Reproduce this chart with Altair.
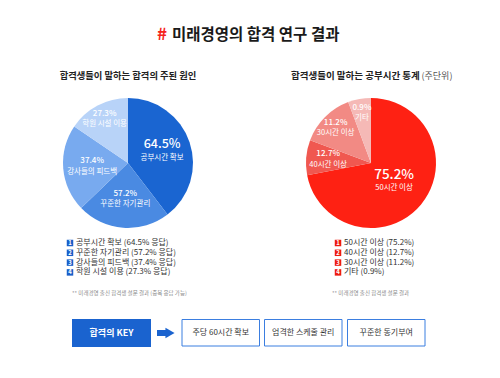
import altair as alt
import pandas as pd

# ---------------- data ----------------
title_text = "미래경영의 합격 연구 결과"
left_title = "합격생들이 말하는 합격의 주된 원인"
right_title_main = "합격생들이 말하는 공부시간 통계"
right_title_unit = "(주단위)"

left_cats = ["공부시간 확보", "꾸준한 자기관리", "강사들의 피드백", "학원 시설 이용"]
left_values = [64.5, 57.2, 37.4, 27.3]
left_share = [39.6, 23.2, 21.7, 15.5]     # slice share as drawn in the picture

right_cats = ["50시간 이상", "40시간 이상", "30시간 이상", "기타"]
right_values = [75.2, 12.7, 11.2, 0.9]
right_share = [72.0, 8.7, 13.6, 5.7]      # slice share as drawn in the picture

left_note = "** 미래경영 출신 합격생 설문 결과 (중복 응답 가능)"
right_note = "** 미래경영 출신 합격생 설문 결과"

key_label = "합격의 KEY"
key_items = ["주당 60시간 확보", "엄격한 스케줄 관리", "꾸준한 동기부여"]

# ---------------- styles ----------------
FONT = "Noto Sans CJK KR"
left_colors = ["#1a65d1", "#4a8ae2", "#78aaef", "#b8d3f8"]
right_colors = ["#fe2113", "#f05850", "#f28a84", "#f5b9b6"]
left_label_r = [36, 36, 36, 50]
right_label_r = [30, 43, 50, 51]
left_big_size = 12.5
right_big_size = 13.5
LC = (128, 163)
RC = (371, 163)
R = 65

def pie_df(cats, vals, share, cols, lr):
    return pd.DataFrame({
        "i": range(len(cats)),
        "cat": cats,
        "val": vals,
        "share": share,
        "col": cols,
        "lr": lr,
        "pct": [f"{v}%" for v in vals],
    })

ldf = pie_df(left_cats, left_values, left_share, left_colors, left_label_r)
rdf = pie_df(right_cats, right_values, right_share, right_colors, right_label_r)

def pie_layers(df, c, big):
    arc = alt.Chart(df).mark_arc(outerRadius=R, stroke=None).encode(
        theta=alt.Theta("share:Q", stack=True),
        order=alt.Order("i:Q"),
        color=alt.Color("col:N", scale=None),
        x=alt.value(c[0]), y=alt.value(c[1]),
    )
    tb = alt.Chart(df).transform_window(
        cum="sum(share)", sort=[alt.SortField("i")], frame=[None, 0]
    ).transform_joinaggregate(tot="sum(share)").transform_calculate(
        mid="(datum.cum - datum.share/2) / datum.tot * 2 * PI"
    ).encode(
        theta=alt.Theta("mid:Q", scale=None),
        radius=alt.Radius("lr:Q", scale=None),
        x=alt.value(c[0]), y=alt.value(c[1]),
    )
    big_f = tb.transform_filter("datum.i == 0")
    small_f = tb.transform_filter("datum.i > 0")
    pct_big = big_f.mark_text(font=FONT, color="white", dy=-7.5, fontSize=big,
                              fontWeight=500).encode(text="pct:N")
    sub_big = big_f.mark_text(font=FONT, color="white", fontSize=7.5, dy=6.3).encode(
        text="cat:N")
    pct_small = small_f.mark_text(font=FONT, color="white", dy=-5, fontSize=8,
                                  fontWeight=500).encode(text="pct:N")
    sub_small = small_f.mark_text(font=FONT, color="white", fontSize=7.5, dy=5.5).encode(
        text="cat:N")
    return [arc, pct_big, sub_big, pct_small, sub_small]

def txt(text, x, y, size, color="#222", weight="normal", align="center"):
    return alt.Chart(pd.DataFrame({"t": [text]})).mark_text(
        font=FONT, fontSize=size, color=color, fontWeight=weight, align=align,
        baseline="middle").encode(text="t:N", x=alt.value(x), y=alt.value(y))

layers = []
# title
layers.append(txt("#", 167, 35, 17, color="#f5221b", weight="bold", align="right"))
layers.append(txt(title_text, 172, 35, 15.5, color="#1a1a1a", weight="bold", align="left"))
# subtitles
layers.append(txt(left_title, 128, 76, 9.3, weight="bold"))
layers.append(txt(right_title_main, 291, 76, 9.5, weight="bold", align="left"))
layers.append(txt(right_title_unit, 421.5, 76, 9, color="#555", align="left"))

layers += pie_layers(ldf, LC, left_big_size)
layers += pie_layers(rdf, RC, right_big_size)

# legends
def legend_layers(cats, vals, suffix, color, x0):
    df = pd.DataFrame({
        "i": range(len(cats)),
        "num": [str(k + 1) for k in range(len(cats))],
        "lab": [f"{c} ({v}%{suffix})" for c, v in zip(cats, vals)],
    })
    b = alt.Chart(df).transform_calculate(yy="243 + datum.i * 9.8")
    sq = b.mark_point(shape="square", filled=True, size=42, color=color, opacity=1).encode(
        x=alt.value(x0), y=alt.Y("yy:Q", scale=None))
    nm = b.mark_text(font=FONT, fontSize=6, color="white", fontWeight="bold").encode(
        x=alt.value(x0), y=alt.Y("yy:Q", scale=None), text="num:N")
    lb = b.mark_text(font=FONT, fontSize=8, color="#333", align="left").encode(
        x=alt.value(x0 + 6), y=alt.Y("yy:Q", scale=None), text="lab:N")
    return [sq, nm, lb]

layers += legend_layers(left_cats, left_values, " 응답", "#1a5fc9", 70)
layers += legend_layers(right_cats, right_values, "", "#ee1c10", 338)

layers.append(txt(left_note, 72, 293, 5.5, color="#888", align="left"))
layers.append(txt(right_note, 332, 293, 5.5, color="#888", align="left"))

# KEY box
def rect(x1, x2, y1, y2, fill, stroke=None):
    m = alt.Chart(pd.DataFrame({"a": [0]})).mark_rect(
        fill=fill, stroke=stroke, strokeWidth=1 if stroke else 0)
    return m.encode(x=alt.value(x1), x2=alt.value(x2), y=alt.value(y1), y2=alt.value(y2))

layers.append(rect(72, 151, 319, 347, "#1a63cf"))
layers.append(txt(key_label, 111.5, 333, 9, color="white", weight="bold"))
# arrow
layers.append(rect(157, 168, 330, 336, "#1a63cf"))
layers.append(alt.Chart(pd.DataFrame({"a": [0]})).mark_point(
    shape="triangle-right", filled=True, size=110, color="#1a63cf", opacity=1).encode(
    x=alt.value(170), y=alt.value(333)))

box_x = [182, 264.5, 347.5]
box_w = 77.5
for bx, item in zip(box_x, key_items):
    layers.append(rect(bx, bx + box_w, 319.5, 346, "white", stroke="#3b7ee0"))
    layers.append(txt(item, bx + box_w / 2, 333, 8, color="#333"))

chart = alt.layer(*layers).resolve_scale(theta="independent").properties(
    width=500, height=378, autosize=alt.AutoSizeParams(type="none"),
    padding=0, background="white"
).configure_view(stroke=None)

chart.save("out.html", embed_options={"renderer": "svg", "actions": False})
